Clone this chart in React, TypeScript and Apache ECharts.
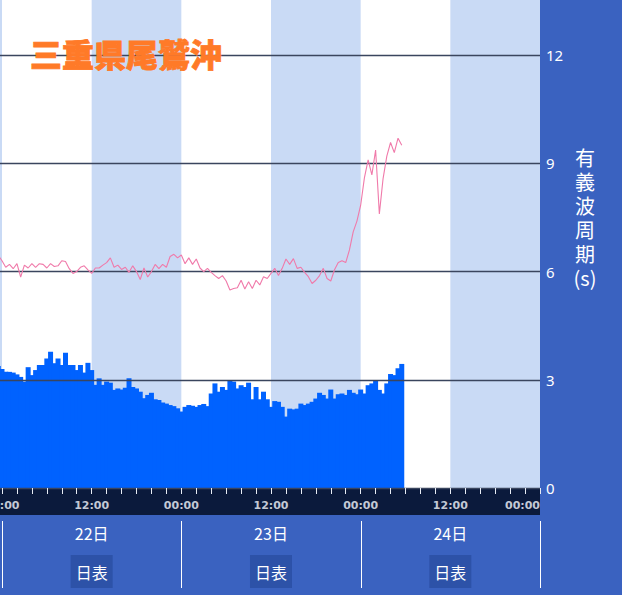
import React, { useEffect, useRef } from 'react';
import * as echarts from 'echarts';

const TITLE = '三重県尾鷲沖';
const Y_NAME = '有\n義\n波\n周\n期\n(s)';
const DAY_LABELS = ['22日', '23日', '24日'];
const BUTTON_LABEL = '日表';

// x axis: hours measured from 22日 00:00; observations every 30 minutes from 21日 23:30
const START_H = -0.5;
const STEP_H = 0.5;

// 有義波周期 (s)
const periods = [
  6.45, 6.3, 6.12, 6.2, 6.08, 6.22, 5.85, 6.18, 6.1, 6.22,
  6.12, 6.22, 6.2, 6.1, 6.22, 6.14, 6.16, 6.3, 6.28, 6.08,
  5.95, 6.0, 6.12, 6.16, 6.05, 5.95, 6.1, 6.1, 6.18, 6.25,
  6.38, 6.12, 6.18, 6.06, 6.12, 5.98, 6.16, 6.0, 5.78, 6.1,
  5.85, 6.0, 6.2, 6.08, 6.2, 6.12, 6.42, 6.48, 6.38, 6.46,
  6.22, 6.38, 6.2, 6.35, 6.1, 6.0, 6.09, 5.98, 5.89, 5.81,
  5.89, 5.74, 5.49, 5.53, 5.55, 5.76, 5.52, 5.72, 5.53, 5.76,
  5.63, 5.86, 5.81, 5.95, 6.09, 5.89, 6.09, 6.35, 6.2, 6.36,
  6.09, 6.12, 5.98, 5.86, 5.67, 5.76, 5.89, 6.09, 5.81, 5.74,
  6.05, 6.25, 6.3, 6.25, 6.6, 7.1, 7.4, 7.84, 8.6, 9.1,
  8.68, 9.37, 7.6, 8.58, 9.2, 9.58, 9.3, 9.7, 9.5,
];

// 有義波高 (m)
const heights = [
  3.38, 3.3, 3.22, 3.22, 3.2, 3.15, 3.08, 2.95, 3.35, 3.13,
  3.27, 3.41, 3.41, 3.59, 3.78, 3.46, 3.59, 3.41, 3.75, 3.41,
  3.41, 3.27, 3.41, 3.2, 3.47, 3.27, 2.86, 3.04, 2.86, 2.95,
  2.92, 2.72, 2.76, 2.73, 2.78, 3.04, 2.8, 2.76, 2.67, 2.49,
  2.58, 2.64, 2.46, 2.44, 2.37, 2.34, 2.3, 2.27, 2.21, 2.12,
  2.25, 2.3, 2.28, 2.25, 2.3, 2.33, 2.27, 2.62, 2.9, 2.67,
  2.8, 2.72, 2.97, 2.95, 2.76, 2.85, 2.8, 2.92, 2.46, 2.8,
  2.46, 2.67, 2.46, 2.25, 2.41, 2.39, 2.25, 1.98, 2.2, 2.18,
  2.2, 2.34, 2.3, 2.34, 2.39, 2.48, 2.64, 2.58, 2.48, 2.73,
  2.48, 2.6, 2.62, 2.58, 2.72, 2.64, 2.6, 2.73, 2.62, 2.85,
  2.9, 2.97, 2.72, 2.62, 2.9, 3.16, 3.13, 3.32, 3.44,
];

const AXIS_MIN = -16 / 60; // 21日 23:44
const AXIS_MAX = 72; // 25日 00:00

const dayStarts = [0, 24, 48, 72];
const dayNoons = [12, 36, 60];
const labelHours = [0, 12, 24, 36, 48, 60, 72];
const tickHours: number[] = [];
for (let h = 0; h <= 72; h += 2) tickHours.push(h);
const bandRanges = [
  [-12, 0],
  [12, 24],
  [36, 48],
  [60, 72],
];

const pad = (n: number) => (n < 10 ? '0' + n : '' + n);

export default function App() {
  const ref = useRef<HTMLDivElement>(null);
  useEffect(() => {
    if (!ref.current) return;
    const chart = echarts.init(ref.current, undefined, { renderer: 'svg' });
    const times = periods.map((_, i) => START_H + i * STEP_H);
    const option: any = {
      animation: false,
      backgroundColor: '#3a62c0',
      title: {
        text: TITLE,
        left: 25,
        top: 32,
        z: 10,
        textStyle: {
          color: '#ff7a28',
          fontSize: 32,
          fontWeight: 900,
          fontFamily: '"Noto Sans CJK JP", sans-serif',
          textBorderColor: '#ff7a28',
          textBorderWidth: 0.8,
        },
      },
      grid: {
        left: 0,
        right: 82,
        top: -53,
        bottom: 107,
        show: true,
        backgroundColor: '#ffffff',
        borderWidth: 0,
        containLabel: false,
        outerBoundsMode: 'none',
      },
      xAxis: {
        type: 'value',
        min: AXIS_MIN,
        max: AXIS_MAX,
        z: 3,
        axisLine: { show: false },
        axisTick: {
          show: true,
          customValues: tickHours,
          length: 6,
          lineStyle: { color: '#e8ecf5', width: 1 },
        },
        axisLabel: {
          customValues: labelHours,
          formatter: (v: number) => {
            const h = ((Math.round(v) % 24) + 24) % 24;
            return pad(h) + ':00';
          },
          color: '#c3c9d6',
          fontSize: 11,
          fontWeight: 'bold',
          fontFamily: '"DejaVu Sans", sans-serif',
          margin: 12,
          alignMaxLabel: 'right',
          hideOverlap: false,
        },
        splitLine: { show: false },
      },
      yAxis: {
        type: 'value',
        position: 'right',
        min: 0,
        max: 15,
        interval: 3,
        z: 3,
        name: Y_NAME,
        nameLocation: 'middle',
        nameRotate: 0,
        nameGap: 45,
        nameTextStyle: {
          color: '#ffffff',
          fontSize: 20,
          lineHeight: 24,
          align: 'center',
          verticalAlign: 'middle',
          fontFamily: '"Noto Sans CJK JP", sans-serif',
        },
        axisLine: { show: false },
        axisTick: { show: false },
        axisLabel: {
          color: '#ffffff',
          fontSize: 15,
          margin: 6,
          showMaxLabel: false,
          fontFamily: '"Noto Sans", sans-serif',
        },
        splitLine: { show: true, lineStyle: { color: '#3a455e', width: 1.4 } },
      },
      series: [
        {
          type: 'line',
          name: 'band',
          data: [],
          z: 1,
          silent: true,
          markArea: {
            silent: true,
            itemStyle: { color: '#c9daf5' },
            data: bandRanges.map(([a, b]) => [{ xAxis: a }, { xAxis: b }]),
          },
        },
        {
          type: 'bar',
          name: '有義波高',
          data: times.map((t, i) => [t, heights[i]]),
          barWidth: 5,
          itemStyle: { color: '#0062ff' },
          z: 2,
        },
        {
          type: 'line',
          name: '有義波周期',
          data: times.map((t, i) => [t, periods[i]]),
          showSymbol: false,
          symbol: 'none',
          lineStyle: { color: '#f07aaa', width: 1.1 },
          z: 4,
        },
      ],
    };
    chart.setOption(option);

    const px = (t: number) => chart.convertToPixel({ xAxisIndex: 0 }, t) as number;
    const y0 = chart.convertToPixel({ yAxisIndex: 0 }, 0) as number;
    const xL = px(AXIS_MIN);
    const xR = px(AXIS_MAX);
    const graphic: any[] = [
      {
        type: 'rect',
        z: 0,
        shape: { x: xL, y: y0, width: xR - xL, height: 27 },
        style: { fill: '#0b1a3c' },
      },
    ];
    dayStarts.forEach((t) => {
      const x = Math.round(px(t)) + 0.5;
      graphic.push({
        type: 'line',
        z: 1,
        shape: { x1: x, y1: y0 + 33, x2: x, y2: y0 + 100 },
        style: { stroke: '#ffffff', lineWidth: 1 },
      });
    });
    dayNoons.forEach((t, i) => {
      const x = px(t);
      graphic.push({
        type: 'text',
        z: 1,
        x,
        y: y0 + 45,
        style: {
          text: DAY_LABELS[i],
          fill: '#ffffff',
          fontSize: 16,
          fontFamily: '"Noto Sans CJK JP", sans-serif',
          align: 'center',
          verticalAlign: 'middle',
        },
      });
      graphic.push({
        type: 'rect',
        z: 1,
        shape: { x: x - 21, y: y0 + 67, width: 42, height: 33 },
        style: { fill: '#2d52a8' },
      });
      graphic.push({
        type: 'text',
        z: 2,
        x,
        y: y0 + 84,
        style: {
          text: BUTTON_LABEL,
          fill: '#ffffff',
          fontSize: 16,
          fontFamily: '"Noto Sans CJK JP", sans-serif',
          align: 'center',
          verticalAlign: 'middle',
        },
      });
    });
    chart.setOption({ graphic });

    return () => chart.dispose();
  }, []);
  return <div ref={ref} style={{ position: 'fixed', left: 0, top: 0, width: 622, height: 595 }} />;
}
